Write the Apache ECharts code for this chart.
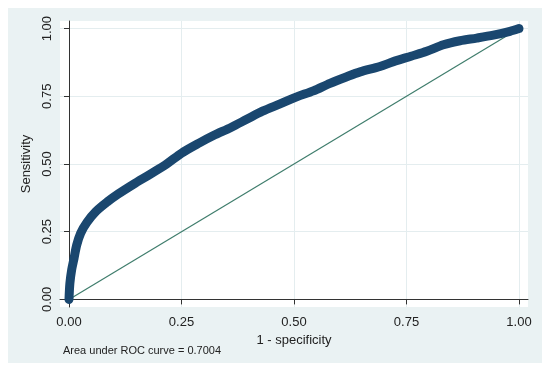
<!DOCTYPE html>
<html>
<head>
<meta charset="utf-8">
<script src="https://cdn.jsdelivr.net/npm/echarts@6/dist/echarts.min.js"></script>
<style>html,body{margin:0;padding:0;background:#fff;}#c{width:550px;height:374px;}</style>
</head>
<body>
<div id="c"></div>
<script>
// ROC curve points (1 - specificity, sensitivity)
var fpr = [0.000,0.002,0.006,0.011,0.017,0.026,0.040,0.060,0.085,0.110,0.143,0.180,0.217,0.250,0.290,0.321,0.360,0.395,0.430,0.469,0.506,0.543,0.580,0.617,0.647,0.691,0.721,0.760,0.795,0.832,0.869,0.906,0.943,0.980,1.000];
var tpr = [0.000,0.060,0.110,0.150,0.200,0.245,0.285,0.325,0.360,0.390,0.425,0.462,0.500,0.540,0.578,0.605,0.635,0.665,0.695,0.722,0.748,0.770,0.798,0.822,0.840,0.860,0.878,0.898,0.916,0.940,0.955,0.965,0.976,0.990,1.000];
var refLine = [[0,0],[1,1]];
var tickValues = [0, 0.25, 0.5, 0.75, 1];
var tickLabels = ['0.00','0.25','0.50','0.75','1.00'];
var xTitle = '1 - specificity';
var yTitle = 'Sensitivity';
var note = 'Area under ROC curve = 0.7004';

var rocData = fpr.map(function(v,i){return [v,tpr[i]];});
function fmt(v){ var i = tickValues.indexOf(Math.round(v*100)/100); return i>=0 ? tickLabels[i] : v.toFixed(2); }
var font = 'Liberation Sans, Arial, sans-serif';
var chart = echarts.init(document.getElementById('c'), null, {renderer:'canvas'});
chart.setOption({
  animation:false,
  backgroundColor:'#ffffff',
  graphic:[
    {type:'rect', left:8, top:8, shape:{width:534, height:355}, style:{fill:'#EAF2F3'}, z:-10, silent:true},
    {type:'text', left:63, top:345, style:{text:note, fontSize:11, fontFamily:font, fill:'#222'}, z:10}
  ],
  grid:{left:60, top:21, width:468, height:286, show:true, backgroundColor:'#ffffff', borderWidth:0, containLabel:false},
  xAxis:{type:'value', min:-0.02, max:1.02,
    name:xTitle, nameLocation:'middle', nameGap:21,
    nameTextStyle:{fontSize:13, fontFamily:font, color:'#222'},
    axisLine:{show:true, lineStyle:{color:'#333', width:1}},
    axisTick:{show:true, length:5, customValues:tickValues, lineStyle:{color:'#333'}},
    axisLabel:{customValues:tickValues, formatter:fmt, fontSize:13, fontFamily:font, color:'#222', margin:9},
    splitLine:{show:true, lineStyle:{color:'#E4EDEF', width:1}}
  },
  yAxis:{type:'value', min:-0.028, max:1.028,
    name:yTitle, nameLocation:'middle', nameGap:21, nameRotate:90,
    nameTextStyle:{fontSize:13, fontFamily:font, color:'#222'},
    axisLine:{show:true, lineStyle:{color:'#333', width:1}},
    axisTick:{show:true, length:5, customValues:tickValues, lineStyle:{color:'#333'}},
    axisLabel:{customValues:tickValues, formatter:fmt, rotate:90, fontSize:13, fontFamily:font, color:'#222', margin:6},
    splitLine:{show:true, lineStyle:{color:'#E4EDEF', width:1}}
  },
  series:[
    {type:'line', data:refLine, showSymbol:false, lineStyle:{color:'#3F7D6C', width:1.2}, z:2},
    {type:'line', data:rocData, smooth:0.3, showSymbol:false, lineStyle:{color:'#1A476F', width:9, cap:'round', join:'round'}, z:3}
  ]
});
</script>
</body>
</html>
